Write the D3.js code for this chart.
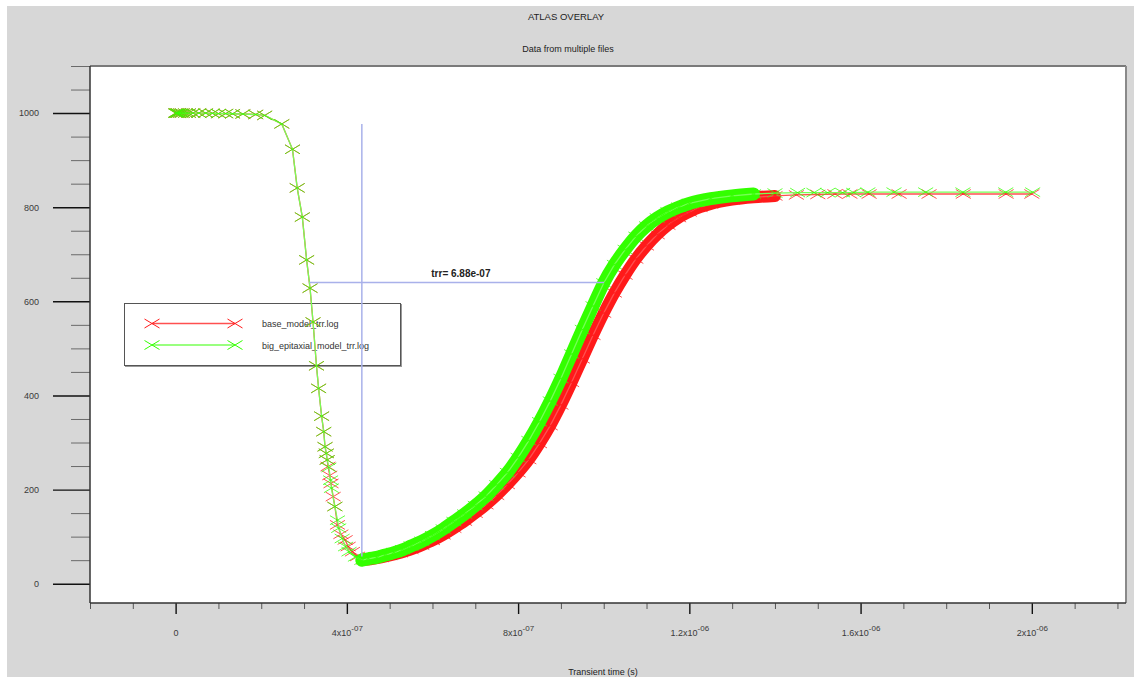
<!DOCTYPE html>
<html>
<head>
<meta charset="utf-8">
<style>
  html, body { margin: 0; padding: 0; background: #fff; }
  svg { display: block; }
  text { font-family: 'Liberation Sans', Arial, sans-serif; }
</style>
</head>
<body>
<div id="chart"></div>
<script src="https://cdn.jsdelivr.net/npm/d3@7/dist/d3.min.js"></script>
<script>
// times are in units of 1e-7 s
const baseTime = [
  0, 0.02, 0.05, 0.07, 0.12, 0.16, 0.23, 0.30, 0.40, 0.54, 0.70, 0.86, 1.00, 1.17, 1.33, 1.57, 1.87, 2.08,
  2.48, 2.73, 2.84, 2.96, 3.06, 3.14, 3.21, 3.29, 3.34, 3.41,
  3.46, 3.49, 3.52, 3.54, 3.56, 3.60, 3.63, 3.68, 3.72, 3.78,
  3.86, 3.96, 4.03, 4.13, 4.25, 4.40,
  4.55, 4.8, 5.0, 5.25, 5.5, 5.75, 6.0, 6.25, 6.5, 6.75,
  7.0, 7.25, 7.5, 7.75, 8.0, 8.25, 8.5, 8.75, 9.0, 9.25,
  9.5, 9.75, 10.0, 10.25, 10.5, 10.75, 11.0, 11.25, 11.5, 11.75,
  12.0, 12.25, 12.5, 13.0, 13.5, 14.0,
  14.5, 15.0, 15.4, 15.75, 16.2, 16.9, 17.6, 18.4, 19.4, 20.0
];
const baseValue = [
  1000, 1000, 1000, 1000, 1000, 1000, 1000, 1000, 1000, 1000, 1000, 999.5, 999, 999, 998.5, 998, 997, 995,
  977, 923, 841, 779, 688, 628, 556, 463, 415, 356,
  323, 291, 277, 263, 249, 230, 213, 185, 164, 125,
  105, 93, 79, 68, 58, 51,
  52, 56, 60, 66, 73, 82, 92, 104, 118, 133,
  150, 168, 188, 211, 236, 264, 298, 336, 380, 428,
  478, 528, 575, 618, 656, 690, 718, 742, 762, 778,
  790, 800, 807, 816, 821, 824,
  826, 827, 828, 828, 828, 828, 828, 828, 828, 828
];

const epiTime = [
  0, 0.02, 0.05, 0.07, 0.12, 0.16, 0.23, 0.30, 0.40, 0.54, 0.70, 0.86, 1.00, 1.17, 1.33, 1.57, 1.87, 2.08,
  2.48, 2.73, 2.84, 2.96, 3.06, 3.14, 3.21, 3.29, 3.34, 3.41,
  3.46, 3.49, 3.52, 3.54, 3.58, 3.62, 3.64, 3.72, 3.78, 3.81,
  3.89, 3.97, 4.05, 4.20, 4.35,
  4.5, 4.7, 4.9, 5.1, 5.3, 5.5, 5.75, 6.0, 6.25, 6.5,
  6.75, 7.0, 7.25, 7.5, 7.75, 8.0, 8.25, 8.5, 8.75, 9.0,
  9.25, 9.5, 9.75, 10.0, 10.25, 10.5, 10.75, 11.0, 11.25, 11.5,
  11.75, 12.0, 12.5, 13.0, 13.5, 14.0,
  14.53, 14.91, 15.23, 15.58, 15.84, 16.17, 16.78, 17.52, 18.39, 19.39, 20.02
];
const epiValue = [
  1000, 1000, 1000, 1000, 1000, 1000, 1000, 1000, 1000, 1000, 1000, 999.5, 999, 999, 998.5, 998, 997, 995,
  977, 923, 841, 779, 688, 628, 556, 463, 415, 356,
  323, 291, 277, 263, 247, 220, 203, 164, 135, 118,
  96, 79, 68, 57, 50,
  53, 56, 61, 66, 72, 80, 90, 102, 116, 132,
  148, 166, 186, 210, 236, 268, 304, 344, 388, 436,
  488, 540, 590, 639, 678, 710, 738, 760, 777, 790,
  800, 808, 818, 824, 828, 830,
  831, 831, 831, 831, 831, 832, 832, 832, 832, 832, 832
];

// time span where the solver wrote very many steps (markers merge into a band)
const baseDense = [4.40, 14.0];
const epiDense = [4.35, 13.5];

const seriesNames = ['base_model_trr.log', 'big_epitaxial_model_trr.log'];
const seriesColors = ['#ff1a1a', '#33ff00'];
const lineColors = ['#ff5050', '#77ff55'];
const bandWidths = [12, 13];

const yTicks = d3.range(0, 1101, 50);
const yMajor = [0, 200, 400, 600, 800, 1000];
const xTicks = d3.range(-2, 22.1, 1);
const xMajor = [0, 4, 8, 12, 16, 20];
const xTickBase = ['0', '4x10', '8x10', '1.2x10', '1.6x10', '2x10'];
const xTickExp = ['', '-07', '-07', '-06', '-06', '-06'];

// trr annotation
const trrStart = 3.13;
const trrValue = 6.88;
const trrLevel = 640;
const minTime = 4.35;
const minLine = [58, 977];

const width = 1134;
const height = 677;
const plot = { left: 90, right: 1126, top: 66, bottom: 603 };

const svg = d3.select('#chart').append('svg').attr('width', width).attr('height', height);

svg.append('rect').attr('width', width).attr('height', height).attr('fill', '#fff');
svg.append('rect').attr('x', 7).attr('y', 6).attr('width', width - 7).attr('height', height - 6).attr('fill', '#d7d7d7');
svg.append('rect')
  .attr('x', plot.left).attr('y', plot.top)
  .attr('width', plot.right - plot.left).attr('height', plot.bottom - plot.top)
  .attr('fill', '#fff');

/* Titles
=========================================================================*/
svg.append('text').attr('x', 566).attr('y', 19.5).attr('text-anchor', 'middle')
  .attr('font-size', 9.5).attr('fill', '#222').text('ATLAS OVERLAY');
svg.append('text').attr('x', 568).attr('y', 52).attr('text-anchor', 'middle')
  .attr('font-size', 9).attr('fill', '#222').text('Data from multiple files');
svg.append('text').attr('x', 603).attr('y', 675).attr('text-anchor', 'middle')
  .attr('font-size', 9).attr('fill', '#222').text('Transient time (s)');

/* Scales
=========================================================================*/
const x = d3.scaleLinear().domain([-2, 22.2]).range([plot.left, plot.right]);
const y = d3.scaleLinear().domain([-41, 1100]).range([plot.bottom, plot.top]);

/* Y Axis
=========================================================================*/
svg.append('g')
  .attr('transform', `translate(${plot.left},0)`)
  .call(d3.axisLeft(y).tickValues(yTicks.filter(v => !yMajor.includes(v))).tickSize(19).tickFormat(''))
  .call(g => g.select('.domain').remove())
  .call(g => g.selectAll('.tick line').attr('stroke', '#6a6a6a'));

svg.append('g')
  .attr('transform', `translate(${plot.left},0)`)
  .call(d3.axisLeft(y).tickValues(yMajor).tickSize(37).tickPadding(14).tickFormat(d3.format('d')))
  .call(g => g.select('.domain').remove())
  .call(g => g.selectAll('.tick line').attr('stroke', '#111').attr('stroke-width', 1.4))
  .call(g => g.selectAll('.tick text').attr('font-size', 9).attr('fill', '#3a3a3a')
    .attr('font-family', "'Liberation Sans', Arial, sans-serif"));

/* X Axis
=========================================================================*/
svg.append('g')
  .attr('transform', `translate(0,${plot.bottom})`)
  .call(d3.axisBottom(x).tickValues(xTicks.filter(v => !xMajor.includes(v))).tickSize(6).tickFormat(''))
  .call(g => g.select('.domain').remove())
  .call(g => g.selectAll('.tick line').attr('stroke', '#555'));

svg.append('g')
  .attr('transform', `translate(0,${plot.bottom})`)
  .call(d3.axisBottom(x).tickValues(xMajor).tickSize(11).tickPadding(16).tickFormat(''))
  .call(g => g.select('.domain').remove())
  .call(g => g.selectAll('.tick line').attr('stroke', '#111').attr('stroke-width', 1.4))
  .call(g => g.selectAll('.tick text').each(function (d, i) {
    const t = d3.select(this)
      .attr('font-size', 9).attr('fill', '#3a3a3a')
      .attr('font-family', "'Liberation Sans', Arial, sans-serif");
    t.append('tspan').text(xTickBase[i]);
    if (xTickExp[i]) t.append('tspan').attr('dy', -5).attr('font-size', 8).text(xTickExp[i]);
  }));

/* Frame
=========================================================================*/
svg.append('line').attr('x1', plot.left).attr('x2', plot.right).attr('y1', plot.top).attr('y2', plot.top)
  .attr('stroke', '#7a7a7a').attr('stroke-width', 2);
svg.append('line').attr('x1', plot.right).attr('x2', plot.right).attr('y1', plot.top).attr('y2', plot.bottom)
  .attr('stroke', '#8a8a8a').attr('stroke-width', 2);
svg.append('line').attr('x1', plot.left).attr('x2', plot.left).attr('y1', plot.top).attr('y2', plot.bottom)
  .attr('stroke', '#333').attr('stroke-width', 1.5);
svg.append('line').attr('x1', plot.left).attr('x2', plot.right).attr('y1', plot.bottom).attr('y2', plot.bottom)
  .attr('stroke', '#333').attr('stroke-width', 1.5);

/* Legend
=========================================================================*/
const markerPath = 'M-7.5,-4.5L7.5,4.5M-7.5,4.5L7.5,-4.5';
const legend = svg.append('g').attr('transform', 'translate(124,303)');
legend.append('rect').attr('x', 1).attr('y', 1).attr('width', 277).attr('height', 63).attr('fill', '#999');
legend.append('rect').attr('x', 0.5).attr('y', 0.5).attr('width', 276).attr('height', 62)
  .attr('fill', '#fff').attr('stroke', '#555');

seriesNames.forEach((name, i) => {
  const ly = 20.5 + i * 21.5;
  legend.append('line').attr('x1', 28).attr('x2', 111).attr('y1', ly).attr('y2', ly)
    .attr('stroke', lineColors[i]).attr('stroke-width', 1.3);
  [28, 111].forEach(mx => {
    legend.append('path').attr('d', markerPath).attr('transform', `translate(${mx},${ly})`)
      .attr('stroke', seriesColors[i]).attr('fill', 'none').attr('stroke-width', 1);
  });
  legend.append('text').attr('x', 138).attr('y', ly + 3.5).attr('font-size', 9).attr('fill', '#333').text(name);
});

/* Series
=========================================================================*/
const series = [
  { time: baseTime, value: baseValue, dense: baseDense },
  { time: epiTime, value: epiValue, dense: epiDense }
];

const line = d3.line().x(d => x(d[0])).y(d => y(d[1]));
const band = d3.line().x(d => x(d[0])).y(d => y(d[1])).curve(d3.curveMonotoneX);

series.forEach((s, i) => {
  const pts = s.time.map((t, k) => [t, s.value[k]]);
  const densePts = pts.filter(p => p[0] >= s.dense[0] && p[0] <= s.dense[1]);
  const g = svg.append('g');

  g.append('path').datum(densePts).attr('d', band)
    .attr('fill', 'none').attr('stroke', seriesColors[i]).attr('stroke-width', bandWidths[i])
    .attr('stroke-linecap', 'round').attr('stroke-linejoin', 'round');

  g.append('path').datum(pts).attr('d', line)
    .attr('fill', 'none').attr('stroke', lineColors[i]).attr('stroke-width', 1.3);

  g.selectAll('path.marker').data(pts).enter().append('path')
    .attr('class', 'marker')
    .attr('d', markerPath)
    .attr('transform', d => `translate(${x(d[0])},${y(d[1])})`)
    .attr('fill', 'none').attr('stroke', seriesColors[i]).attr('stroke-width', 0.9).attr('opacity', 0.85);
});

/* trr annotation
=========================================================================*/
const trrColor = '#a9b1ea';
svg.append('line')
  .attr('x1', x(minTime)).attr('x2', x(minTime)).attr('y1', y(minLine[1])).attr('y2', y(minLine[0]))
  .attr('stroke', trrColor).attr('stroke-width', 1.5);
svg.append('line')
  .attr('x1', x(trrStart)).attr('x2', x(trrStart + trrValue)).attr('y1', y(trrLevel)).attr('y2', y(trrLevel))
  .attr('stroke', trrColor).attr('stroke-width', 1.5);
svg.append('text')
  .attr('x', x(trrStart + trrValue / 2) + 4).attr('y', y(trrLevel) - 5)
  .attr('text-anchor', 'middle').attr('font-size', 10).attr('font-weight', 'bold').attr('fill', '#222')
  .text(`trr= ${trrValue.toFixed(2)}e-07`);
</script>
</body>
</html>
